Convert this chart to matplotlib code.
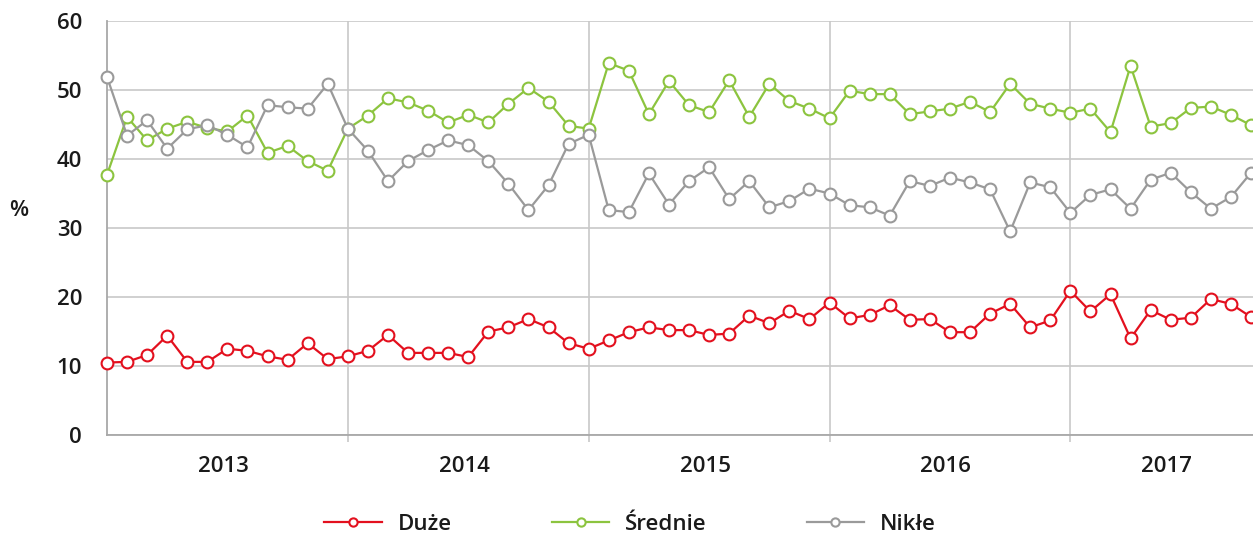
import matplotlib
matplotlib.use("Agg")
import matplotlib.pyplot as plt
import matplotlib.transforms as mtransforms
import numpy as np

years = ["2013", "2014", "2015", "2016", "2017"]
duze = [10.5, 10.6, 11.6, 14.4, 10.6, 10.6, 12.5, 12.2, 11.4, 10.9, 13.3, 11.0,
        11.4, 12.2, 14.5, 11.9, 11.9, 11.9, 11.3, 15.0, 15.6, 16.8, 15.6, 13.3,
        12.5, 13.7, 14.9, 15.6, 15.2, 15.2, 14.5, 14.7, 17.3, 16.2, 18.0, 16.8,
        19.2, 16.9, 17.4, 18.8, 16.7, 16.8, 14.9, 14.9, 17.6, 19.0, 15.6, 16.6,
        20.9, 17.9, 20.4, 14.0, 18.1, 16.7, 17.0, 19.7, 19.0, 17.1]
srednie = [37.7, 46.1, 42.7, 44.4, 45.4, 44.5, 44.0, 46.3, 40.9, 41.9, 39.7, 38.3,
           44.4, 46.3, 48.8, 48.2, 47.0, 45.3, 46.4, 45.3, 48.0, 50.3, 48.3, 44.8,
           44.4, 53.9, 52.8, 46.5, 51.3, 47.8, 46.8, 51.4, 46.1, 50.9, 48.4, 47.3,
           45.9, 49.9, 49.4, 49.4, 46.5, 46.9, 47.3, 48.3, 46.8, 50.9, 48.0, 47.3,
           46.7, 47.3, 43.9, 53.5, 44.7, 45.2, 47.4, 47.6, 46.4, 44.9]
nikle = [51.9, 43.4, 45.6, 41.5, 44.3, 44.9, 43.5, 41.7, 47.8, 47.5, 47.3, 50.9,
         44.4, 41.2, 36.8, 39.7, 41.3, 42.7, 42.0, 39.7, 36.4, 32.6, 36.2, 42.2,
         43.5, 32.6, 32.3, 37.9, 33.4, 36.8, 38.8, 34.2, 36.8, 33.0, 33.9, 35.7,
         35.0, 33.3, 33.0, 31.8, 36.8, 36.1, 37.3, 36.6, 35.6, 29.5, 36.6, 35.9,
         32.2, 34.8, 35.6, 32.8, 37.0, 38.0, 35.2, 32.8, 34.5, 38.0]
series_names = ["Duże", "Średnie", "Nikłe"]
colors = ["#e3101e", "#8cc43f", "#9a9a9a"]

plt.rcParams['font.family'] = ['Open Sans', 'DejaVu Sans']
FS = 16

W, H = 1253, 542
fig = plt.figure(figsize=(W / 100, H / 100), dpi=100)
ax = fig.add_axes([107 / W, (H - 435) / H, (1253 - 107) / W, (435 - 21) / H])

x = np.arange(len(duze))
for vals, name, c in zip([duze, srednie, nikle], series_names, colors):
    ax.plot(x, vals, color=c, lw=1.6, marker='o', ms=8.5, mfc='white',
            mec=c, mew=1.5, label=name, clip_on=False, zorder=3)

ax.set_xlim(0, len(duze) - 1 + 0.1)
ax.set_ylim(0, 60)
ax.set_yticks(np.arange(0, 61, 10))
ax.set_xticks([12, 24, 36, 48])
ax.set_xticklabels([])
ax.grid(True, color='#c8c8c8', lw=1.2, zorder=0)
ax.set_axisbelow(True)
for s in ['top', 'right']:
    ax.spines[s].set_visible(False)
for s in ['left', 'bottom']:
    ax.spines[s].set_color('#a8a8a8')
    ax.spines[s].set_linewidth(1.3)
ax.tick_params(axis='x', length=5, color='#c8c8c8', width=1.2)
ax.tick_params(axis='y', length=0, pad=18, labelsize=FS, labelcolor='#1a1a1a')
for lab in ax.get_yticklabels():
    lab.set_fontweight('semibold')

trans = mtransforms.blended_transform_factory(ax.transData, ax.transAxes)
for i, yr in enumerate(years):
    months = [m for m in range(len(duze)) if m // 12 == i]
    cx = np.mean(months) + 0.3
    ax.text(cx, -0.077, yr, transform=trans, ha='center', va='center',
            fontsize=FS, fontweight='semibold', color='#1a1a1a')

fig.text(19 / W, 1 - 210 / H, "%", ha='center', va='center', fontsize=FS,
         fontweight='semibold', color='#1a1a1a')

leg = fig.legend(loc='center', bbox_to_anchor=(630 / W, 1 - 524 / H), ncol=3,
                 frameon=False, fontsize=FS, handlelength=2.6, handletextpad=0.7,
                 columnspacing=4.5, markerscale=0.7)
for t in leg.get_texts():
    t.set_fontweight('semibold')
    t.set_color('#1a1a1a')

fig.savefig("out.png", dpi=100)
